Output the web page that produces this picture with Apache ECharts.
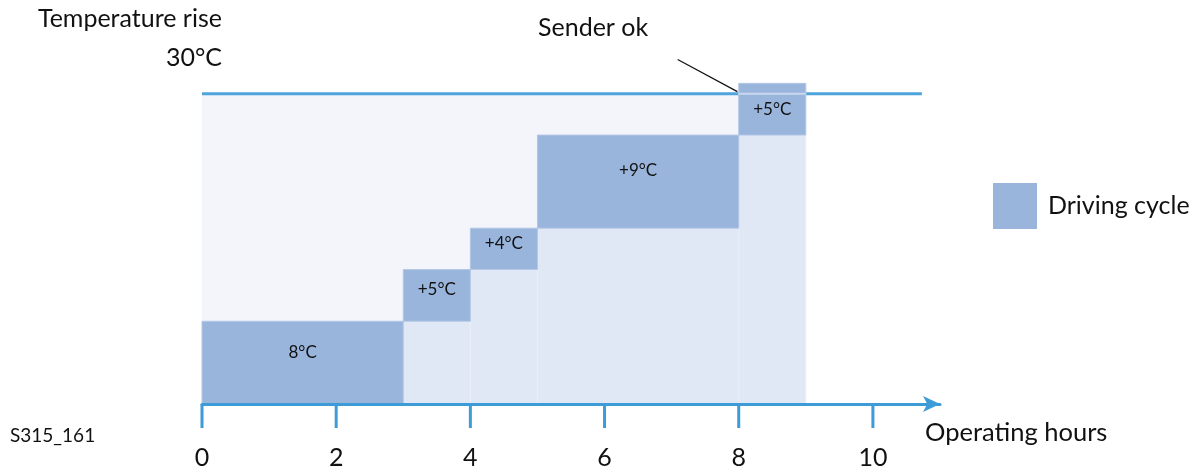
<!DOCTYPE html>
<html><head><meta charset="utf-8">
<script src="https://cdn.jsdelivr.net/npm/echarts@6/dist/echarts.min.js"></script>
<style>html,body{margin:0;padding:0;background:#fff}#c{width:1204px;height:466px}</style>
</head><body><div id="c"></div>
<script>
// Driving cycles: start hour, end hour, temperature rise
const segStart = [0, 3, 4, 5, 8];
const segEnd   = [3, 4, 5, 8, 9];
const rises    = [8, 5, 4, 9, 5];
const riseLabels = ['8°C', '+5°C', '+4°C', '+9°C', '+5°C'];
const xTicks = [0, 2, 4, 6, 8, 10];
const limitValue = 30;
const limitEnd = 10.73;
const senderPointer = [[7.09, 33.3], [7.98, 30.2]];

const bases = [];
let acc = 0;
for (let i = 0; i < rises.length; i++) { bases.push(acc); acc += rises[i]; }

const FONT = 'Lato, "DejaVu Sans", sans-serif';
const AXIS_BLUE = '#3d9bd8';
const chart = echarts.init(document.getElementById('c'));

function rectOf(api, x0, x1, y0, y1) {
  const p0 = api.coord([x0, y1]);
  const p1 = api.coord([x1, y0]);
  return { x: p0[0], y: p0[1], width: p1[0] - p0[0], height: p1[1] - p0[1] };
}

const blockData = segStart.map((s, i) => [s, segEnd[i], bases[i], rises[i], riseLabels[i]]);

chart.setOption({
  animation: false,
  grid: { left: 202, right: 264, top: 42, bottom: 62, containLabel: false, outerBoundsMode: 'none' },
  xAxis: {
    type: 'value', min: 0, max: 11, interval: 2, z: 10,
    axisLine: { show: true, lineStyle: { color: AXIS_BLUE, width: 3 }, symbol: ['none', 'arrow'], symbolSize: [12, 17], symbolOffset: [0, 0] },
    axisTick: { show: false },
    axisLabel: {
      fontSize: 25, color: '#111', fontFamily: FONT, margin: 41,
      customValues: xTicks, formatter: v => String(v)
    },
    splitLine: { show: false }
  },
  yAxis: { type: 'value', min: 0, max: 35, show: false, splitLine: { show: false } },
  legend: {
    left: 988, top: 178, itemWidth: 44, itemHeight: 46, itemGap: 10,
    icon: 'rect', data: ['Driving cycle'],
    textStyle: { fontSize: 25, color: '#111', fontFamily: FONT, padding: [0, 0, 4, 6] }
  },
  graphic: [
    { type: 'text', right: 982, top: 6, style: { text: 'Temperature rise', font: '25px ' + FONT, fill: '#111', textAlign: 'right' } },
    { type: 'text', right: 982, top: 45, style: { text: '30°C', font: '25px ' + FONT, fill: '#111', textAlign: 'right' } },
    { type: 'text', left: 538, top: 15, style: { text: 'Sender ok', font: '25px ' + FONT, fill: '#111' } },
    { type: 'text', left: 925, top: 420, style: { text: 'Operating hours', font: '25.5px ' + FONT, fill: '#111' } },
    { type: 'text', left: 10, top: 426, style: { text: 'S315_161', font: '19px ' + FONT, fill: '#111' } }
  ],
  series: [
    {
      type: 'custom', name: 'background', silent: true, z: 1, clip: false,
      data: [[0, segStart[segStart.length - 1], 0, limitValue]],
      renderItem: (params, api) => ({
        type: 'rect',
        shape: rectOf(api, api.value(0), api.value(1), api.value(2), api.value(3)),
        style: { fill: '#f3f5fb' }
      })
    },
    {
      type: 'custom', name: 'under', silent: true, z: 2, clip: false,
      data: blockData,
      renderItem: (params, api) => ({
        type: 'rect',
        shape: rectOf(api, api.value(0), api.value(1), 0, api.value(2)),
        style: { fill: '#e1e8f5', stroke: '#eaeff8', lineWidth: 1 }
      })
    },
    {
      type: 'line', name: 'limit', silent: true, z: 3, symbol: 'none',
      data: [[0, limitValue], [limitEnd, limitValue]],
      lineStyle: { color: '#4ea5dc', width: 3 }
    },
    {
      type: 'custom', name: 'Driving cycle', z: 4, clip: false,
      itemStyle: { color: '#9ab5dc' },
      data: blockData,
      renderItem: (params, api) => {
        const x0 = api.value(0), x1 = api.value(1), b = api.value(2), r = api.value(3);
        const sh = rectOf(api, x0, x1, b, b + r);
        const visTop = api.coord([x0, Math.min(b + r, limitValue)])[1];
        const visH = sh.y + sh.height - visTop;
        const children = [
          { type: 'rect', shape: sh, style: { fill: '#9ab5dc', stroke: '#b3c7e6', lineWidth: 1 } },
          { type: 'text', style: {
              text: blockData[params.dataIndex][4],
              x: sh.x + sh.width / 2, y: visTop + visH * 0.38,
              textAlign: 'center', textVerticalAlign: 'middle',
              font: '17px ' + FONT, fill: '#111' } }
        ];
        if (b + r > limitValue && b < limitValue) {
          const p = api.coord([x0, limitValue]);
          const q = api.coord([x1, limitValue]);
          children.push({ type: 'line', shape: { x1: p[0], y1: p[1], x2: q[0], y2: q[1] }, style: { stroke: '#c9d8ee', lineWidth: 2 } });
        }
        return { type: 'group', children };
      }
    },
    {
      type: 'custom', name: 'ticks', silent: true, z: 11, clip: false,
      data: xTicks.map(v => [v, 0]),
      renderItem: (params, api) => {
        const p = api.coord([api.value(0), 0]);
        return { type: 'line', shape: { x1: p[0], y1: p[1], x2: p[0], y2: p[1] + 24 }, style: { stroke: AXIS_BLUE, lineWidth: 3 } };
      }
    },
    {
      type: 'line', name: 'pointer', silent: true, z: 5, symbol: 'none',
      data: senderPointer,
      lineStyle: { color: '#111', width: 1.2 }
    }
  ]
});
</script>
</body></html>
